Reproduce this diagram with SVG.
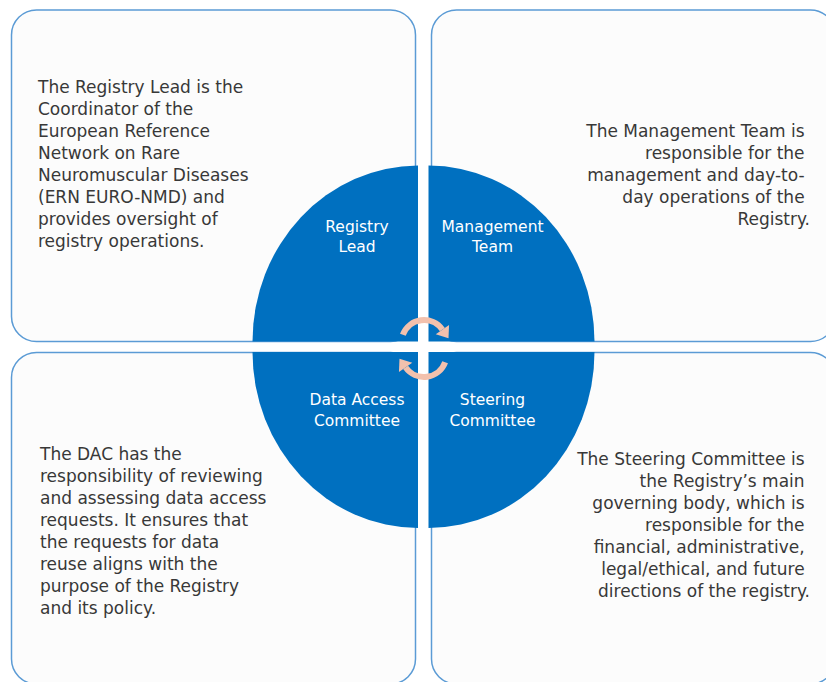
<svg xmlns="http://www.w3.org/2000/svg" width="826" height="682" viewBox="0 0 826 682">
  <defs>
    <style>
      .box { fill: #FCFCFC; stroke: #5B9BD5; stroke-width: 1.5; }
      .quad { fill: #0070C0; }
      .desc { font-family: "DejaVu Sans", "Liberation Sans", sans-serif; font-size: 17px; fill: #383838; }
      .right { text-anchor: end; }
      .label { font-family: "DejaVu Sans", "Liberation Sans", sans-serif; font-size: 15.5px; fill: #FFFFFF; text-anchor: middle; }
      .arc { fill: none; stroke: #F3C1AD; stroke-width: 6; }
    </style>
    <marker id="head" markerUnits="userSpaceOnUse" orient="auto" markerWidth="20" markerHeight="20" refX="0" refY="0" viewBox="-1 -8 12 16" overflow="visible">
      <path d="M0,-6.5 L8.5,0 L0,6.5 Z" fill="#F3C1AD"/>
    </marker>
  </defs>
  <rect width="826" height="682" fill="#FFFFFF"/>

  <g id="registry-lead">
    <rect class="box" x="11.5" y="10" width="404" height="331.5" rx="25" ry="25"/>
    <path class="quad" d="M418,341.5 L252.5,341.5 A166,176 0 0 1 418,165.5 Z"/>
    <text class="label" x="357" y="231.5">Registry</text>
    <text class="label" x="357" y="252">Lead</text>
    <text class="desc" x="38">
      <tspan x="38" y="92.5">The Registry Lead is the</tspan>
      <tspan x="38" y="114.6">Coordinator of the</tspan>
      <tspan x="38" y="136.7">European Reference</tspan>
      <tspan x="38" y="158.8">Network on Rare</tspan>
      <tspan x="38" y="180.9">Neuromuscular Diseases</tspan>
      <tspan x="38" y="203">(ERN EURO-NMD) and</tspan>
      <tspan x="38" y="225.1">provides oversight of</tspan>
      <tspan x="38" y="247.2">registry operations.</tspan>
    </text>
  </g>

  <g id="management-team">
    <rect class="box" x="431.5" y="10" width="404" height="331.5" rx="25" ry="25"/>
    <path class="quad" d="M428.5,341.5 L428.5,165.5 A166,176 0 0 1 594.5,341.5 Z"/>
    <text class="label" x="492.5" y="231.5">Management</text>
    <text class="label" x="492.5" y="252">Team</text>
    <text class="desc right">
      <tspan x="810" y="136.5">The Management Team is</tspan>
      <tspan x="810" y="158.7">responsible for the</tspan>
      <tspan x="810" y="180.9">management and day-to-</tspan>
      <tspan x="810" y="203.1">day operations of the</tspan>
      <tspan x="810" y="225.3">Registry.</tspan>
    </text>
  </g>

  <g id="data-access-committee">
    <rect class="box" x="11.5" y="352.5" width="404" height="331.5" rx="25" ry="25"/>
    <path class="quad" d="M418,352 L418,528 A166,176 0 0 1 252.5,352 Z"/>
    <text class="label" x="357" y="404.5">Data Access</text>
    <text class="label" x="357" y="425.5">Committee</text>
    <text class="desc">
      <tspan x="40" y="459.5">The DAC has the</tspan>
      <tspan x="40" y="481.6">responsibility of reviewing</tspan>
      <tspan x="40" y="503.7">and assessing data access</tspan>
      <tspan x="40" y="525.8">requests. It ensures that</tspan>
      <tspan x="40" y="547.9">the requests for data</tspan>
      <tspan x="40" y="570">reuse aligns with the</tspan>
      <tspan x="40" y="592.1">purpose of the Registry</tspan>
      <tspan x="40" y="614.2">and its policy.</tspan>
    </text>
  </g>

  <g id="steering-committee">
    <rect class="box" x="431.5" y="352.5" width="404" height="331.5" rx="25" ry="25"/>
    <path class="quad" d="M428.5,352 L594.5,352 A166,176 0 0 1 428.5,528 Z"/>
    <text class="label" x="492.5" y="404.5">Steering</text>
    <text class="label" x="492.5" y="425.5">Committee</text>
    <text class="desc right">
      <tspan x="810" y="464.5">The Steering Committee is</tspan>
      <tspan x="810" y="486.6">the Registry’s main</tspan>
      <tspan x="810" y="508.7">governing body, which is</tspan>
      <tspan x="810" y="530.8">responsible for the</tspan>
      <tspan x="810" y="552.9">financial, administrative,</tspan>
      <tspan x="810" y="575">legal/ethical, and future</tspan>
      <tspan x="810" y="597.1">directions of the registry.</tspan>
    </text>
  </g>

  <g id="connectors">
    <path class="arc" d="M402.86,334.8 A22.5,22.5 0 0 1 442.4,329.6" marker-end="url(#head)"/>
    <path class="arc" d="M445.14,362.2 A22.5,22.5 0 0 1 405.6,367.4" marker-end="url(#head)"/>
  </g>
</svg>
